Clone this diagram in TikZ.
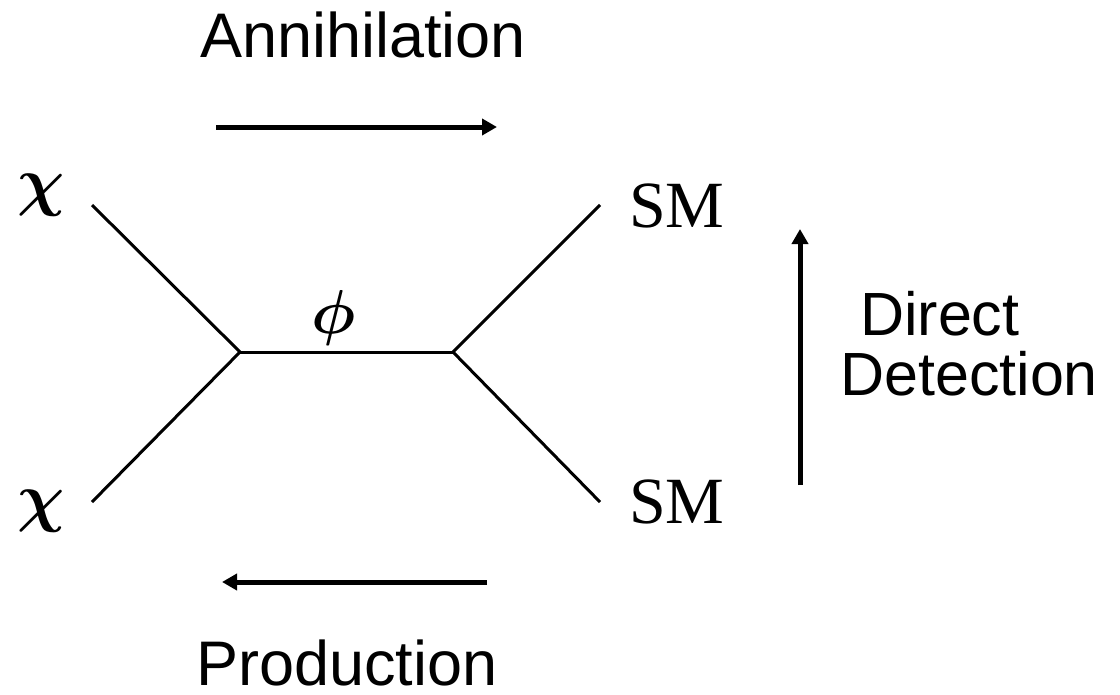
\documentclass[tikz,border=0pt]{standalone}
\usepackage{amsmath}
\usepackage{fontspec}
\usepackage{graphicx}
\setmainfont{Liberation Serif}
\newfontfamily\arialfont{Liberation Sans}
\usetikzlibrary{arrows.meta}
\begin{document}
\begin{tikzpicture}[x=1pt,y=-1pt,
  prop/.style={line width=3pt},
  bigarrow/.style={line width=5pt,-{Triangle[length=15pt,width=16pt]}},
  sanslabel/.style={inner sep=0pt,font=\arialfont\fontsize{63}{63}\selectfont},
  seriflabel/.style={inner sep=0pt,font=\fontsize{66}{66}\selectfont},
  mathlabel/.style={inner sep=0pt}]
\useasboundingbox (0,0) rectangle (1120,694);
% vertices and external points
\coordinate (v1) at (240,352);
\coordinate (v2) at (453,352);
\coordinate (e1) at (92,205);
\coordinate (e2) at (92,502);
\coordinate (e3) at (600,205);
\coordinate (e4) at (600,502);
\draw[prop] (e1) -- (v1);
\draw[prop] (e2) -- (v1);
\draw[prop] (v1) -- (v2);
\draw[prop] (v2) -- (e3);
\draw[prop] (v2) -- (e4);
% labels
\node[mathlabel,anchor=base] (chi1) at (41,203) {\scalebox{6.6}{$\boldsymbol{\chi}$}};
\node[mathlabel,anchor=base] (chi2) at (41,519) {\scalebox{6.6}{$\boldsymbol{\chi}$}};
\node[mathlabel,anchor=base] (phi) at (334,333) {\scalebox{6.2}{$\boldsymbol{\phi}$}};
\node[seriflabel,anchor=base west] (sm1) at (629,227) {SM};
\node[seriflabel,anchor=base west] (sm2) at (629,523) {SM};
% process arrows
\coordinate (a1) at (216,127);
\coordinate (a2) at (497,127);
\draw[bigarrow] (a1) -- (a2);
\coordinate (p1) at (487,582);
\coordinate (p2) at (222,582);
\draw[bigarrow] (p1) -- (p2);
\coordinate (d1) at (800,485);
\coordinate (d2) at (800,229);
\draw[bigarrow] (d1) -- (d2);
\node[sanslabel,anchor=base] (ann) at (363,57) {Annihilation};
\node[sanslabel,anchor=base] (prod) at (347,685) {Production};
\node[inner sep=0pt,font=\arialfont\fontsize{61}{61}\selectfont,anchor=base west] (dir) at (843,335) {\ Direct};
\node[inner sep=0pt,font=\arialfont\fontsize{61}{61}\selectfont,anchor=base west] (det) at (840,395) {Detection};
\end{tikzpicture}
\end{document}
